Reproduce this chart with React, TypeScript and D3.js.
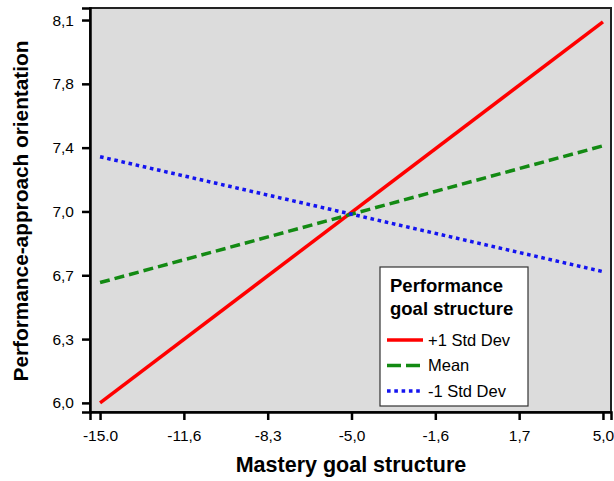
import { useEffect, useRef } from "react";
import * as d3 from "d3";

// x positions of the three simple slopes and their end values
const xValues = [-15, 5];
const plusOneSD = [6.0, 8.09];
const meanLine = [6.66, 7.41];
const minusOneSD = [7.35, 6.72];

const xTicks = [-15, -11.667, -8.333, -5, -1.667, 1.667, 5];
const xTickLabels = ["-15.0", "-11,6", "-8,3", "-5,0", "-1,6", "1,7", "5,0"];
const yTicks = [6.0, 6.35, 6.7, 7.05, 7.4, 7.75, 8.1];
const yTickLabels = ["6,0", "6,3", "6,7", "7,0", "7,4", "7,8", "8,1"];

const seriesNames = ["+1 Std Dev", "Mean", "-1 Std Dev"];
const seriesValues = [plusOneSD, meanLine, minusOneSD];
const seriesColors = ["#ff0000", "#138a13", "#1414f0"];
const seriesDash = ["none", "10,5", "3.6,3.7"];

export default function App() {
  const ref = useRef<SVGSVGElement>(null);

  useEffect(() => {
    if (!ref.current) return;
    const svg = d3.select(ref.current);
    svg.selectAll("*").remove();

    const left = 90, right = 611, top = 8, bottom = 412;
    const x = d3.scaleLinear().domain([-15.4, 5.32]).range([left, right]);
    const y = d3.scaleLinear().domain([5.95, 8.166]).range([bottom, top]);
    const font = "'Liberation Sans', Arial, sans-serif";

    // plot background
    svg.append("rect")
      .attr("x", left).attr("y", top)
      .attr("width", right - left).attr("height", bottom - top)
      .attr("fill", "#dcdcdc")
      .attr("stroke", "#222").attr("stroke-width", 2);

    // lines
    const line = d3.line<number>()
      .x((_, i) => x(xValues[i]))
      .y(d => y(d));
    seriesValues.forEach((vals, i) => {
      svg.append("path")
        .attr("d", line(vals))
        .attr("fill", "none")
        .attr("stroke", seriesColors[i])
        .attr("stroke-width", 3.5)
        .attr("stroke-dasharray", seriesDash[i]);
    });

    // y axis
    const yAxis = d3.axisLeft(y)
      .tickValues(yTicks)
      .tickFormat((_, i) => yTickLabels[i])
      .tickSize(8).tickPadding(8);
    const gy = svg.append("g").attr("transform", `translate(${left},0)`).call(yAxis);
    gy.select(".domain").attr("stroke", "#000").attr("stroke-width", 2.5);
    gy.selectAll(".tick line").attr("stroke", "#000").attr("stroke-width", 2.5);
    gy.selectAll(".tick text").attr("font-size", 15.5).attr("font-family", font).attr("fill", "#000");

    // x axis
    const xAxis = d3.axisBottom(x)
      .tickValues(xTicks)
      .tickFormat((_, i) => xTickLabels[i])
      .tickSize(8).tickPadding(10);
    const gx = svg.append("g").attr("transform", `translate(0,${bottom})`).call(xAxis);
    gx.select(".domain").attr("stroke", "#000").attr("stroke-width", 2.5);
    gx.selectAll(".tick line").attr("stroke", "#000").attr("stroke-width", 2.5);
    gx.selectAll(".tick text").attr("font-size", 15.5).attr("font-family", font).attr("fill", "#000");

    // axis titles
    svg.append("text")
      .attr("x", 351).attr("y", 472)
      .attr("text-anchor", "middle")
      .attr("font-family", font).attr("font-weight", "bold").attr("font-size", 21.5)
      .text("Mastery goal structure");
    svg.append("text")
      .attr("transform", "translate(28,211) rotate(-90)")
      .attr("text-anchor", "middle")
      .attr("font-family", font).attr("font-weight", "bold").attr("font-size", 20.8)
      .text("Performance-approach orientation");

    // legend
    const lg = svg.append("g").attr("transform", "translate(380,267)");
    lg.append("rect")
      .attr("width", 148).attr("height", 139)
      .attr("fill", "#fff").attr("stroke", "#333").attr("stroke-width", 1.2);
    ["Performance", "goal structure"].forEach((t, i) => {
      lg.append("text")
        .attr("x", 10).attr("y", 25 + i * 23)
        .attr("font-family", font).attr("font-weight", "bold").attr("font-size", 18.5)
        .text(t);
    });
    seriesNames.forEach((name, i) => {
      const yy = 73 + i * 25.5;
      lg.append("line")
        .attr("x1", 7).attr("x2", 43).attr("y1", yy).attr("y2", yy)
        .attr("stroke", seriesColors[i]).attr("stroke-width", 3.5)
        .attr("stroke-dasharray", i === 1 ? "14,5" : seriesDash[i]);
      lg.append("text")
        .attr("x", 48).attr("y", yy + 5.5)
        .attr("font-family", font).attr("font-size", 16.5)
        .text(name);
    });
  }, []);

  return (
    <svg ref={ref} width={614} height={481}
      style={{ position: "absolute", left: 0, top: 0, background: "#fff" }} />
  );
}
